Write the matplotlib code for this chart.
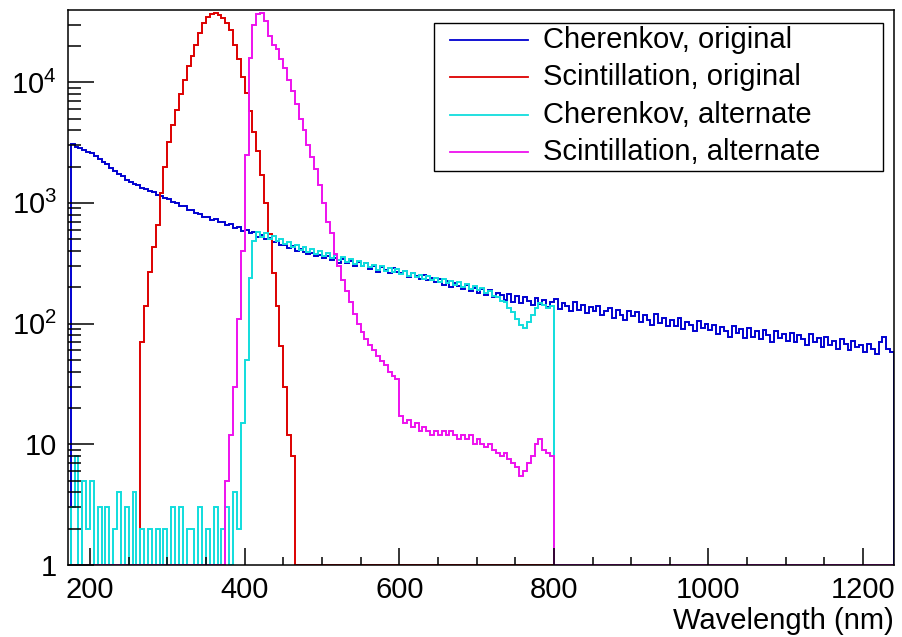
import numpy as np
import matplotlib
matplotlib.use("Agg")
import matplotlib.pyplot as plt
from matplotlib.lines import Line2D
from matplotlib.patches import Rectangle
from matplotlib.ticker import FixedLocator, NullFormatter

plt.rcParams["font.family"] = ["Liberation Sans", "DejaVu Sans"]
plt.rcParams["mathtext.fontset"] = "custom"
plt.rcParams["mathtext.rm"] = "Liberation Sans"

# histogram binning (nm), 5 nm bins
BIN_START = 175
BIN_WIDTH = 5
N_BINS = 213

labels = ["Cherenkov, original", "Scintillation, original",
          "Cherenkov, alternate", "Scintillation, alternate"]
colors = ["#0000d0", "#dd0000", "#11dddd", "#ee11ee"]

cher_orig = [
    3050, 2900, 2830, 2760, 2650,
    2600, 2430, 2330, 2180, 2090, 1950, 1850, 1720, 1660, 1550,
    1500, 1440, 1400, 1330, 1310, 1250, 1230, 1160, 1140, 1090,
    1070, 1020, 990, 950, 935, 880, 870, 820, 805, 770,
    765, 725, 730, 690, 700, 655, 665, 620, 630, 590,
    600, 560, 570, 525, 545, 500, 510, 470, 485, 450,
    450, 425, 440, 400, 415, 395, 380, 385, 360, 370,
    350, 362, 335, 350, 320, 340, 315, 330, 300, 322,
    298, 315, 285, 300, 270, 295, 280, 262, 290, 268,
    260, 275, 245, 262, 250, 232, 255, 228, 240, 220,
    232, 210, 225, 200, 218, 205, 192, 210, 185, 198,
    180, 195, 172, 188, 165, 180, 172, 158, 175, 152,
    170, 148, 165, 155, 142, 162, 145, 158, 138, 150,
    160, 132, 148, 140, 128, 150, 130, 142, 122, 138,
    128, 140, 118, 126, 135, 112, 130, 118, 108, 128,
    115, 125, 104, 118, 108, 98, 120, 102, 112, 96,
    108, 96, 112, 90, 104, 98, 86, 106, 92, 100,
    88, 98, 82, 94, 86, 78, 96, 84, 90, 76,
    92, 78, 86, 74, 88, 80, 70, 86, 76, 82,
    72, 84, 70, 80, 74, 66, 82, 70, 76, 64,
    78, 66, 72, 62, 74, 68, 60, 72, 64, 66,
    58, 68, 62, 56, 70, 78, 62, 58,
]

scint_orig = [0] * 18 + [
    70, 140, 270, 430, 650, 1200, 2000, 3200, 4400, 5900,
    8000, 10500, 13500, 16500, 20500, 25500, 31000, 35000, 37000, 37500,
    36000, 34000, 31000, 27000, 20500, 15500, 11000, 8200, 5800, 3900,
    2700, 1700, 1000, 550, 260, 140, 65, 30, 12, 8,
] + [0] * 155

cher_alt = [
    3, 8, 1, 5, 2,
    5, 1, 3, 1, 3, 0, 2, 4, 1, 3,
    1, 4, 0, 2, 1, 2, 0, 2, 1, 2,
    0, 3, 1, 3, 0, 2, 2, 0, 3, 1,
    2, 0, 3, 1, 2, 3, 0, 4, 2, 15,
    50, 240, 480, 575, 520, 560, 505, 530, 480, 505,
    455, 475, 430, 450, 410, 432, 395, 412, 378, 398,
    365, 382, 348, 370, 335, 356, 322, 345, 312, 332,
    300, 318, 292, 305, 280, 298, 272, 290, 265, 282,
    258, 272, 250, 262, 242, 255, 235, 248, 228, 240,
    222, 234, 215, 226, 208, 220, 202, 212, 195, 206,
    188, 196, 180, 186, 170, 166, 155, 150, 135, 124,
    110, 98, 92, 104, 118, 135, 148, 142, 135, 140,
] + [0] * 88

scint_alt = [0] * 39 + [
    1, 5, 12, 30, 110, 400, 2500, 16000, 30000, 37000,
    37500, 32000, 24000, 20500, 19000, 15500, 13000, 10500, 8500, 6600,
    5000, 4000, 3000, 2400, 1900, 1400, 1000, 700, 560, 380,
    300, 230, 185, 150, 120, 100, 85, 74, 67, 60,
    54, 49, 45, 40, 37, 35,
    17, 15, 16, 14, 15, 13, 14, 13, 12, 13,
    12, 13, 12, 13, 12, 11, 12, 11, 12, 10,
    11, 10, 9.5, 10, 9, 8.5, 8, 8.5, 7.5, 7,
    6.5, 5.5, 6, 7, 8, 10, 11, 9, 8.5, 8,
] + [0] * 88

series = [cher_orig, scint_orig, cher_alt, scint_alt]

edges = BIN_START + BIN_WIDTH * np.arange(N_BINS + 1)

W, H = 903, 637
fig = plt.figure(figsize=(W / 100, H / 100), dpi=100)
ax = fig.add_axes([68 / W, 72 / H, 826 / W, 555.5 / H])

for vals, col in zip(series, colors):
    # empty bins sit on the bottom of the log axis, as in ROOT
    v = np.clip(np.asarray(vals, dtype=float), 1, None)
    ax.stairs(v, edges, baseline=1, color=col, lw=1.4)

ax.set_yscale("log")
ax.set_xlim(171.5, 1240)
ax.set_ylim(1, 4.0e4)

ax.xaxis.set_major_locator(FixedLocator([200, 400, 600, 800, 1000, 1200]))
ax.xaxis.set_minor_locator(FixedLocator(np.arange(200, 1240, 50)))
ax.yaxis.set_major_locator(FixedLocator([1, 10, 100, 1000, 10000]))
ax.set_yticklabels(["1", "10", r"$10^{2}$", r"$10^{3}$", r"$10^{4}$"])
minor_y = [m * 10 ** d for d in range(5) for m in range(2, 10) if m * 10 ** d < 4e4]
ax.yaxis.set_minor_locator(FixedLocator(minor_y))
ax.yaxis.set_minor_formatter(NullFormatter())

ax.tick_params(axis="both", which="both", direction="in", width=1.1,
               top=False, right=False, labelsize=21, colors="black")
ax.tick_params(axis="x", which="major", length=12, pad=8)
ax.tick_params(axis="x", which="minor", length=6)
ax.tick_params(axis="y", which="major", length=18.5, pad=8)
ax.tick_params(axis="y", which="minor", length=9.5)
for sp in ax.spines.values():
    sp.set_linewidth(1.1)

ax.set_xlabel("Wavelength (nm)", loc="right", fontsize=21, labelpad=2)

# ROOT-style legend box (pixel layout of the original canvas)
fig.add_artist(Rectangle((434 / W, 1 - 171 / H), 449 / W, 148 / H,
                         transform=fig.transFigure, facecolor="white",
                         edgecolor="black", lw=1.0, zorder=5))
for i, (lab, col) in enumerate(zip(labels, colors)):
    yc = 1 - (40 + 37.3 * i) / H
    fig.add_artist(Line2D([450 / W, 528 / W], [yc, yc], transform=fig.transFigure,
                          color=col, lw=1.3, zorder=6))
    fig.text(543 / W, yc, lab, fontsize=21, va="center", ha="left", zorder=6)

fig.savefig("out.png", dpi=100)
